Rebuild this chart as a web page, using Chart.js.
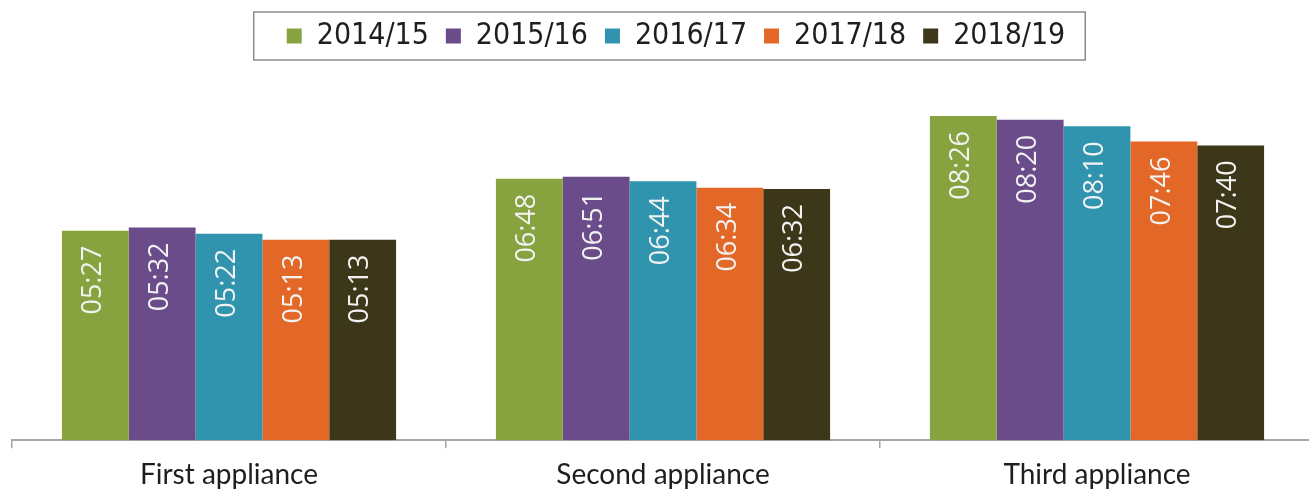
<!DOCTYPE html>
<html>
<head>
<meta charset="utf-8">
<script src="https://cdn.jsdelivr.net/npm/chart.js@4"></script>
<style>
  body { margin: 0; overflow: hidden; background: #fff; }
  #wrap { width: 1316px; height: 490px; position: relative; }
</style>
</head>
<body>
<div id="wrap"><canvas id="callTimes"></canvas></div>
<script>
// times in seconds (mm:ss)
const categories = ['First appliance', 'Second appliance', 'Third appliance'];
const seriesNames = ['2014/15', '2015/16', '2016/17', '2017/18', '2018/19'];
const y1415 = [327, 408, 506];
const y1516 = [332, 411, 500];
const y1617 = [322, 404, 490];
const y1718 = [313, 394, 466];
const y1819 = [313, 392, 460];
const colours = ['#86A33F', '#6A4C8A', '#3194AE', '#E36726', '#3D3719'];

const seriesValues = [y1415, y1516, y1617, y1718, y1819];

function mmss(v) {
  var m = Math.floor(v / 60);
  var s = v % 60;
  return String(m).padStart(2, '0') + ':' + String(s).padStart(2, '0');
}

// labels written up the bar, near its top
const barLabels = {
  id: 'barLabels',
  afterDatasetsDraw(chart) {
    const ctx = chart.ctx;
    ctx.save();
    ctx.font = '27px "Open Sans", sans-serif';
    ctx.fillStyle = '#F2F2F2';
    ctx.textAlign = 'right';
    ctx.textBaseline = 'middle';
    chart.data.datasets.forEach((ds, i) => {
      chart.getDatasetMeta(i).data.forEach((bar, j) => {
        ctx.save();
        ctx.translate(bar.x - 2, bar.y + 15);
        ctx.rotate(-Math.PI / 2);
        ctx.fillText(mmss(ds.data[j]), 0, 0);
        ctx.restore();
      });
    });
    ctx.restore();
  }
};

// move legend and draw its frame
const legendFrame = {
  id: 'legendFrame',
  afterLayout(chart) {
    const lg = chart.legend;
    const dx = 13, dy = 4;
    lg.left += dx; lg.right += dx;
    lg.top += dy; lg.bottom += dy;
    lg.legendHitBoxes.forEach(b => { b.left += dx; });
  },
  afterDraw(chart) {
    const lg = chart.legend;
    const boxes = lg.legendHitBoxes;
    if (!boxes.length) return;
    const lab = lg.options.labels;
    const first = boxes[0], last = boxes[boxes.length - 1];
    const cy = lg.top + lab.padding + lab.font.size / 2;
    const x0 = first.left - 33;
    const x1 = last.left + last.width + 20;
    const ctx = chart.ctx;
    ctx.save();
    ctx.strokeStyle = '#8C8C8C';
    ctx.lineWidth = 1.5;
    ctx.strokeRect(x0, cy - 24, x1 - x0, 48);
    ctx.restore();
  }
};

new Chart(document.getElementById('callTimes'), {
  type: 'bar',
  data: {
    labels: categories,
    datasets: seriesNames.map((name, i) => ({
      label: name,
      data: seriesValues[i],
      backgroundColor: colours[i],
      borderWidth: 0,
      categoryPercentage: 0.77,
      barPercentage: 1.0
    }))
  },
  options: {
    responsive: true,
    maintainAspectRatio: false,
    animation: false,
    layout: { padding: { left: 12, right: 2, top: 0, bottom: -11.8 } },
    plugins: {
      legend: {
        display: true,
        position: 'top',
        labels: {
          boxWidth: 15,
          boxHeight: 15,
          padding: 17,
          color: '#1E1E1E',
          font: { family: '"DejaVu Sans Condensed", sans-serif', size: 30 }
        }
      },
      tooltip: { enabled: false }
    },
    scales: {
      x: {
        grid: {
          display: true,
          offset: true,
          drawOnChartArea: false,
          drawTicks: true,
          tickLength: 8,
          color: '#A6A6A6',
          lineWidth: 1.5
        },
        border: { display: true, color: '#A6A6A6', width: 2 },
        ticks: {
          padding: 10,
          color: '#1E1E1E',
          font: { family: 'Lato, sans-serif', size: 28 }
        }
      },
      y: {
        display: false,
        min: 0,
        max: 598
      }
    }
  },
  plugins: [barLabels, legendFrame]
});
</script>
</body>
</html>
